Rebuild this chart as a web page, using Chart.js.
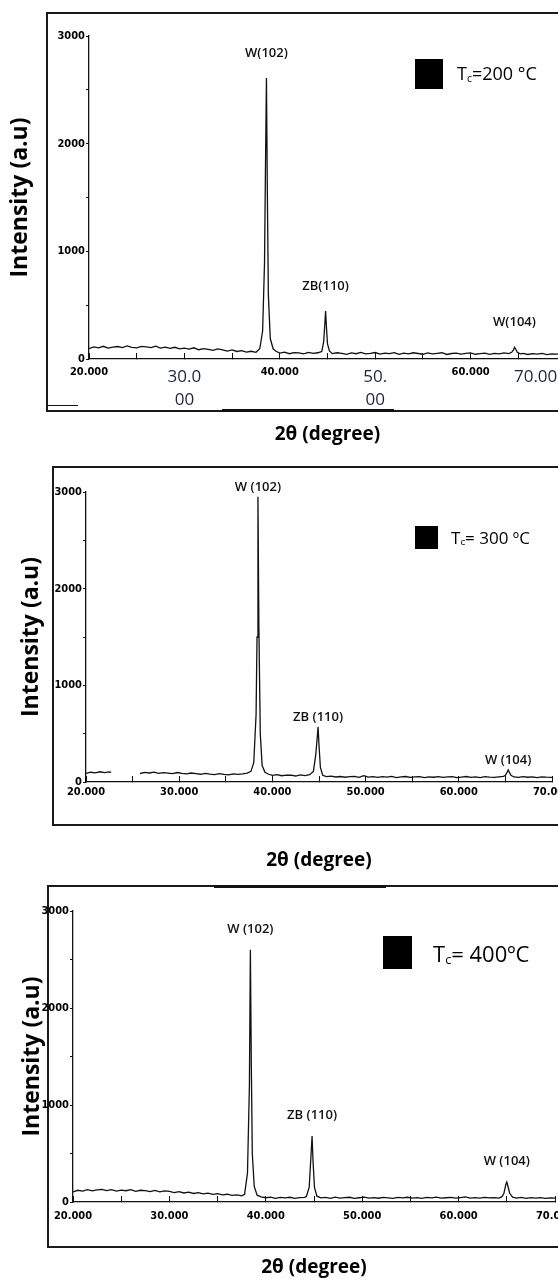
<!DOCTYPE html>
<html>
<head>
<meta charset="utf-8">
<script src="https://cdn.jsdelivr.net/npm/chart.js@4.4.1/dist/chart.umd.min.js"></script>
<style>
  html, body { margin: 0; padding: 0; background: #fff; }
  body { width: 558px; height: 1279px; overflow: hidden; position: relative; }
  canvas { position: absolute; left: 0; }
  .marco { position: absolute; border: 2px solid #1a1a1a; box-sizing: border-box; width: 600px; }
  .trazo { position: absolute; background: #111; }
  .cuadro { position: absolute; background: #000; }
  .rotulo { position: absolute; font-family: "Open Sans", sans-serif; color: #000; white-space: nowrap; }
  .rotulo sub { font-size: 58%; vertical-align: -0.15em; }
</style>
</head>
<body>
<!-- MARCOS DE CADA PANEL -->
<div class="marco" style="left:46px; top:12px; height:400px;"></div>
<div class="trazo" style="left:48px; top:405px; width:30px; height:1px;"></div>
<div class="trazo" style="left:222px; top:409px; width:172px; height:3px;"></div>
<div class="marco" style="left:52px; top:466px; height:360px;"></div>
<div class="marco" style="left:47px; top:885px; height:363px;"></div>
<div class="trazo" style="left:214px; top:885px; width:172px; height:3px;"></div>

<canvas id="chart200" width="640" height="446" style="top:0px;"></canvas>
<canvas id="chart300" width="600" height="422" style="top:450px;"></canvas>
<canvas id="chart400" width="600" height="404" style="top:875px;"></canvas>

<!-- LEYENDAS -->
<div class="cuadro" style="left:415px; top:59px; width:28px; height:30px;"></div>
<div class="rotulo" style="left:457px; top:58px; font-size:18px; line-height:30px;">T<sub>c</sub>=200 °C</div>
<div class="cuadro" style="left:415px; top:526px; width:23px; height:23px;"></div>
<div class="rotulo" style="left:451px; top:523px; font-size:17px; line-height:30px;">T<sub>c</sub>= 300 ºC</div>
<div class="cuadro" style="left:383px; top:936px; width:29px; height:33px;"></div>
<div class="rotulo" style="left:433px; top:936px; font-size:22px; line-height:34px;">T<sub>c</sub>= 400ºC</div>

<script>
/* DATOS DE LOS DIFRACTOGRAMAS (2θ en grados, intensidad en u.a.) */
const theta200 = [
  20, 20.5, 21, 21.5, 22, 22.5, 23, 23.5, 24, 24.5,
  25, 25.5, 26, 26.5, 27, 27.5, 28, 28.5, 29, 29.5,
  30, 30.5, 31, 31.5, 32, 32.5, 33, 33.5, 34, 34.5,
  35, 35.5, 36, 36.5, 37, 37.5, 37.9, 38.2, 38.4, 38.5,
  38.6, 38.7, 38.8, 39.0, 39.3, 39.6, 40, 40.5, 41, 41.5,
  42, 42.5, 43, 43.5, 44, 44.4, 44.6, 44.7, 44.8, 44.9,
  45.0, 45.2, 45.5, 46, 46.5, 47, 47.5, 48, 48.5, 49,
  49.5, 50, 50.5, 51, 51.5, 52, 52.5, 53, 53.5, 54,
  54.5, 55, 55.5, 56, 56.5, 57, 57.5, 58, 58.5, 59,
  59.5, 60, 60.5, 61, 61.5, 62, 62.5, 63, 63.5, 64,
  64.3, 64.5, 64.6, 64.7, 64.9, 65.2, 65.5, 66, 66.5, 67,
  67.5, 68, 68.5, 69, 69.5, 70
];
const intensidad200 = [
  96, 112, 104, 118, 101, 110, 116, 105, 121, 108,
  103, 117, 112, 106, 119, 101, 111, 98, 109, 95,
  101, 92, 104, 86, 97, 90, 80, 93, 84, 74,
  84, 70, 77, 64, 72, 62, 95, 260, 900, 1800,
  2610, 1500, 600, 190, 95, 72, 55, 63, 49, 60,
  57, 47, 61, 52, 58, 70, 160, 300, 445, 280,
  140, 75, 50, 58, 53, 44, 57, 49, 61, 47,
  52, 60, 45, 55, 50, 59, 43, 54, 48, 58,
  51, 44, 56, 47, 53, 58, 42, 51, 55, 46,
  53, 57, 44, 50, 54, 43, 52, 47, 56, 50,
  62, 85, 110, 95, 62, 47, 52, 42, 50, 46,
  53, 41, 48, 45, 51, 43
];

const theta300 = [
  20, 20.5, 21, 21.5, 22, 22.5, 22.7, 24, 25.8, 26.3,
  26.8, 27.3, 27.8, 28.3, 28.8, 29.3, 29.8, 30.3, 30.8, 31.3,
  31.8, 32.3, 32.8, 33.3, 33.8, 34.3, 34.8, 35.3, 35.8, 36.3,
  36.8, 37.3, 37.7, 38.0, 38.25, 38.35, 38.45, 38.55, 38.7, 38.9,
  39.2, 39.6, 40, 40.5, 41, 41.5, 42, 42.5, 43, 43.5,
  44, 44.4, 44.65, 44.8, 44.9, 45.0, 45.15, 45.4, 45.8, 46.3,
  46.8, 47.3, 47.8, 48.3, 48.8, 49.3, 49.8, 50.3, 50.8, 51.3,
  51.8, 52.3, 52.8, 53.3, 53.8, 54.3, 54.8, 55.3, 55.8, 56.3,
  56.8, 57.3, 57.8, 58.3, 58.8, 59.3, 59.8, 60.3, 60.8, 61.3,
  61.8, 62.3, 62.8, 63.3, 63.8, 64.3, 64.8, 65.0, 65.2, 65.3,
  65.4, 65.6, 65.9, 66.4, 66.9, 67.4, 67.9, 68.4, 68.9, 69.4,
  70
];
const intensidad300 = [
  90, 101, 94, 106, 97, 104, 99, null, 88, 99,
  93, 102, 89, 97, 92, 86, 98, 90, 84, 93,
  87, 80, 90, 82, 77, 86, 79, 74, 83, 78,
  84, 92, 110, 200, 700, 1500, 2950, 1600, 500, 170,
  100, 80, 68, 76, 65, 72, 70, 62, 74, 66,
  75, 110, 280, 450, 570, 380, 150, 70, 55, 60,
  52, 57, 49, 55, 58, 48, 66, 50, 56, 47,
  55, 51, 58, 46, 53, 57, 48, 52, 56, 45,
  53, 49, 56, 47, 52, 55, 46, 51, 57, 48,
  53, 46, 55, 50, 47, 54, 58, 70, 105, 125,
  105, 70, 52, 47, 55, 49, 53, 46, 54, 50,
  48
];

const theta400 = [
  20, 20.5, 21, 21.5, 22, 22.5, 23, 23.5, 24, 24.5,
  25, 25.5, 26, 26.5, 27, 27.5, 28, 28.5, 29, 29.5,
  30, 30.5, 31, 31.5, 32, 32.5, 33, 33.5, 34, 34.5,
  35, 35.5, 36, 36.5, 37, 37.5, 37.8, 38.1, 38.3, 38.4,
  38.5, 38.6, 38.8, 39.1, 39.5, 40, 40.5, 41, 41.5, 42,
  42.5, 43, 43.5, 44, 44.2, 44.5, 44.7, 44.8, 44.9, 45.05,
  45.3, 45.7, 46.2, 46.7, 47.2, 47.7, 48.2, 48.7, 49.2, 49.7,
  50.2, 50.7, 51.2, 51.7, 52.2, 52.7, 53.2, 53.7, 54.2, 54.7,
  55.2, 55.7, 56.2, 56.7, 57.2, 57.7, 58.2, 58.7, 59.2, 59.7,
  60.2, 60.7, 61.2, 61.7, 62.2, 62.7, 63.2, 63.7, 64.2, 64.5,
  64.7, 64.9, 65.0, 65.1, 65.3, 65.6, 66.0, 66.5, 67, 67.5,
  68, 68.5, 69, 69.5, 70
];
const intensidad400 = [
  105, 121, 112, 127, 115, 124, 131, 118, 128, 113,
  122, 116, 127, 110, 121, 117, 108, 120, 104, 114,
  109, 97, 106, 93, 101, 88, 96, 84, 91, 79,
  86, 74, 80, 68, 74, 64, 80, 300, 1200, 2600,
  1400, 500, 160, 70, 52, 44, 50, 38, 47, 42,
  49, 37, 45, 48, 55, 150, 500, 680, 420, 150,
  60, 42, 47, 38, 50, 41, 45, 49, 37, 44,
  50, 40, 46, 39, 48, 43, 37, 47, 42, 49,
  40, 45, 38, 47, 43, 50, 39, 44, 48, 40,
  46, 52, 41, 45, 39, 48, 43, 46, 41, 55,
  90, 180, 205, 170, 90, 50, 41, 47, 38, 45,
  40, 46, 37, 43, 39
];

/* ETIQUETAS DE LOS EJES */
const xTickValues = [20, 30, 40, 50, 60, 70];
const xTickLabels = ["20.000", "30.000", "40.000", "50.000", "60.000", "70.000"];
const xTickLabels200 = ["20.000", ["30.0", "00"], "40.000", ["50.", "00"], "60.000", "70.000"];
const yTickValues = [0, 1000, 2000, 3000];
const yTickLabels = ["0", "1000", "2000", "3000"];

/* PICOS ANOTADOS */
const picos200 = ["W(102)", "ZB(110)", "W(104)"];
const thetaPicos200 = [38.6, 44.8, 64.6];
const picos300 = ["W (102)", "ZB (110)", "W (104)"];
const thetaPicos300 = [38.45, 44.9, 65.3];
const picos400 = ["W (102)", "ZB (110)", "W (104)"];
const thetaPicos400 = [38.4, 44.8, 65.0];

const fuenteTick = { family: "'Liberation Sans Narrow', 'DejaVu Sans Condensed', sans-serif", size: 11, weight: "bold", lineHeight: 1.2 };
const fuenteGrande = { family: "'Open Sans', sans-serif", size: 17, lineHeight: 1.35 };
const fuenteTituloX = { family: "'Open Sans', sans-serif", size: 19, weight: "bold", lineHeight: 1.2 };
const fuenteTituloY = { family: "'Open Sans', sans-serif", size: 23, weight: "bold", lineHeight: 1.2 };

/* PLUGIN PARA ESCRIBIR EL NOMBRE DE CADA PICO SOBRE SU MAXIMO */
const notasPico = {
  id: "notasPico",
  afterDatasetsDraw(chart, args, opts) {
    const { ctx, scales } = chart;
    const puntos = chart.data.datasets[0].data;
    ctx.save();
    ctx.font = "600 13px 'Open Sans', sans-serif";
    ctx.fillStyle = "#111";
    ctx.textAlign = "center";
    ctx.textBaseline = "middle";
    opts.textos.forEach((texto, i) => {
      const theta = opts.thetas[i];
      let tope = 0;
      puntos.forEach((p) => {
        if (p.y !== null && Math.abs(p.x - theta) <= 0.3 && p.y > tope) tope = p.y;
      });
      ctx.fillText(texto, scales.x.getPixelForValue(theta), scales.y.getPixelForValue(tope) - opts.gap);
    });
    ctx.restore();
  },
};

const crearGrafica = (canvas, cfg) =>
  new Chart(canvas.getContext("2d"), {
    type: "line",
    data: {
      datasets: [
        {
          data: cfg.theta.map((t, i) => ({ x: t, y: cfg.intensidad[i] })),
          borderColor: "#111",
          borderWidth: 1.3,
          pointRadius: 0,
          tension: 0,
          spanGaps: false,
        },
      ],
    },
    options: {
      responsive: false,
      animation: false,
      devicePixelRatio: 1,
      events: [],
      layout: { padding: cfg.padding },
      plugins: {
        legend: { display: false },
        tooltip: { enabled: false },
        notasPico: { textos: cfg.picos, thetas: cfg.thetaPicos, gap: cfg.gap },
      },
      scales: {
        x: {
          type: "linear",
          min: 20,
          max: 70,
          afterFit: (s) => { s.height = cfg.altoX; },
          border: { color: "#111", width: 1.3 },
          grid: { drawOnChartArea: false, tickLength: -6, tickColor: "#111" },
          ticks: {
            stepSize: 5,
            autoSkip: false,
            maxRotation: 0,
            minRotation: 0,
            padding: cfg.padX,
            callback: (v) => {
              const k = xTickValues.indexOf(v);
              if (k < 0) return "";
              const lab = cfg.xLabels[k];
              return cfg.grandes.includes(v) && v === 70 ? lab + "\u2003\u2003\u2003" : lab;
            },
            font: (c) => (c.tick && cfg.grandes.includes(c.tick.value) ? fuenteGrande : fuenteTick),
            color: (c) => (c.tick && cfg.grandes.includes(c.tick.value) ? "#1c2540" : "#000"),
          },
          title: { display: true, text: "2θ (degree)", font: fuenteTituloX, color: "#000", padding: 0 },
        },
        y: {
          min: 0,
          max: 3000,
          afterFit: (s) => { s.width = cfg.anchoY; },
          border: { color: "#111", width: 1.3 },
          grid: { drawOnChartArea: false, tickLength: 3, tickColor: "#111" },
          ticks: {
            stepSize: 500,
            padding: 1,
            font: fuenteTick,
            color: "#000",
            callback: (v) => {
              const k = yTickValues.indexOf(v);
              return k < 0 ? "" : yTickLabels[k];
            },
          },
          title: { display: true, text: "Intensity (a.u)", font: fuenteTituloY, color: "#000", padding: 0 },
        },
      },
    },
    plugins: [notasPico],
  });

/* PANEL 1: Tc = 200 */
const chart200 = crearGrafica(document.getElementById("chart200"), {
  theta: theta200, intensidad: intensidad200,
  picos: picos200, thetaPicos: thetaPicos200, gap: 25,
  xLabels: xTickLabels200, grandes: [30, 50, 70],
  padding: { left: 7, top: 36, right: 74, bottom: 0 },
  anchoY: 82, altoX: 87, padX: 13,
});

/* PANEL 2: Tc = 300 */
const chart300 = crearGrafica(document.getElementById("chart300"), {
  theta: theta300, intensidad: intensidad300,
  picos: picos300, thetaPicos: thetaPicos300, gap: 10,
  xLabels: xTickLabels, grandes: [],
  padding: { left: 18, top: 42, right: 48, bottom: 0 },
  anchoY: 68, altoX: 90, padX: 10,
});

/* PANEL 3: Tc = 400 */
const chart400 = crearGrafica(document.getElementById("chart400"), {
  theta: theta400, intensidad: intensidad400,
  picos: picos400, thetaPicos: thetaPicos400, gap: 21,
  xLabels: xTickLabels, grandes: [],
  padding: { left: 19, top: 36, right: 45, bottom: 0 },
  anchoY: 54, altoX: 77, padX: 14,
});
</script>
</body>
</html>
